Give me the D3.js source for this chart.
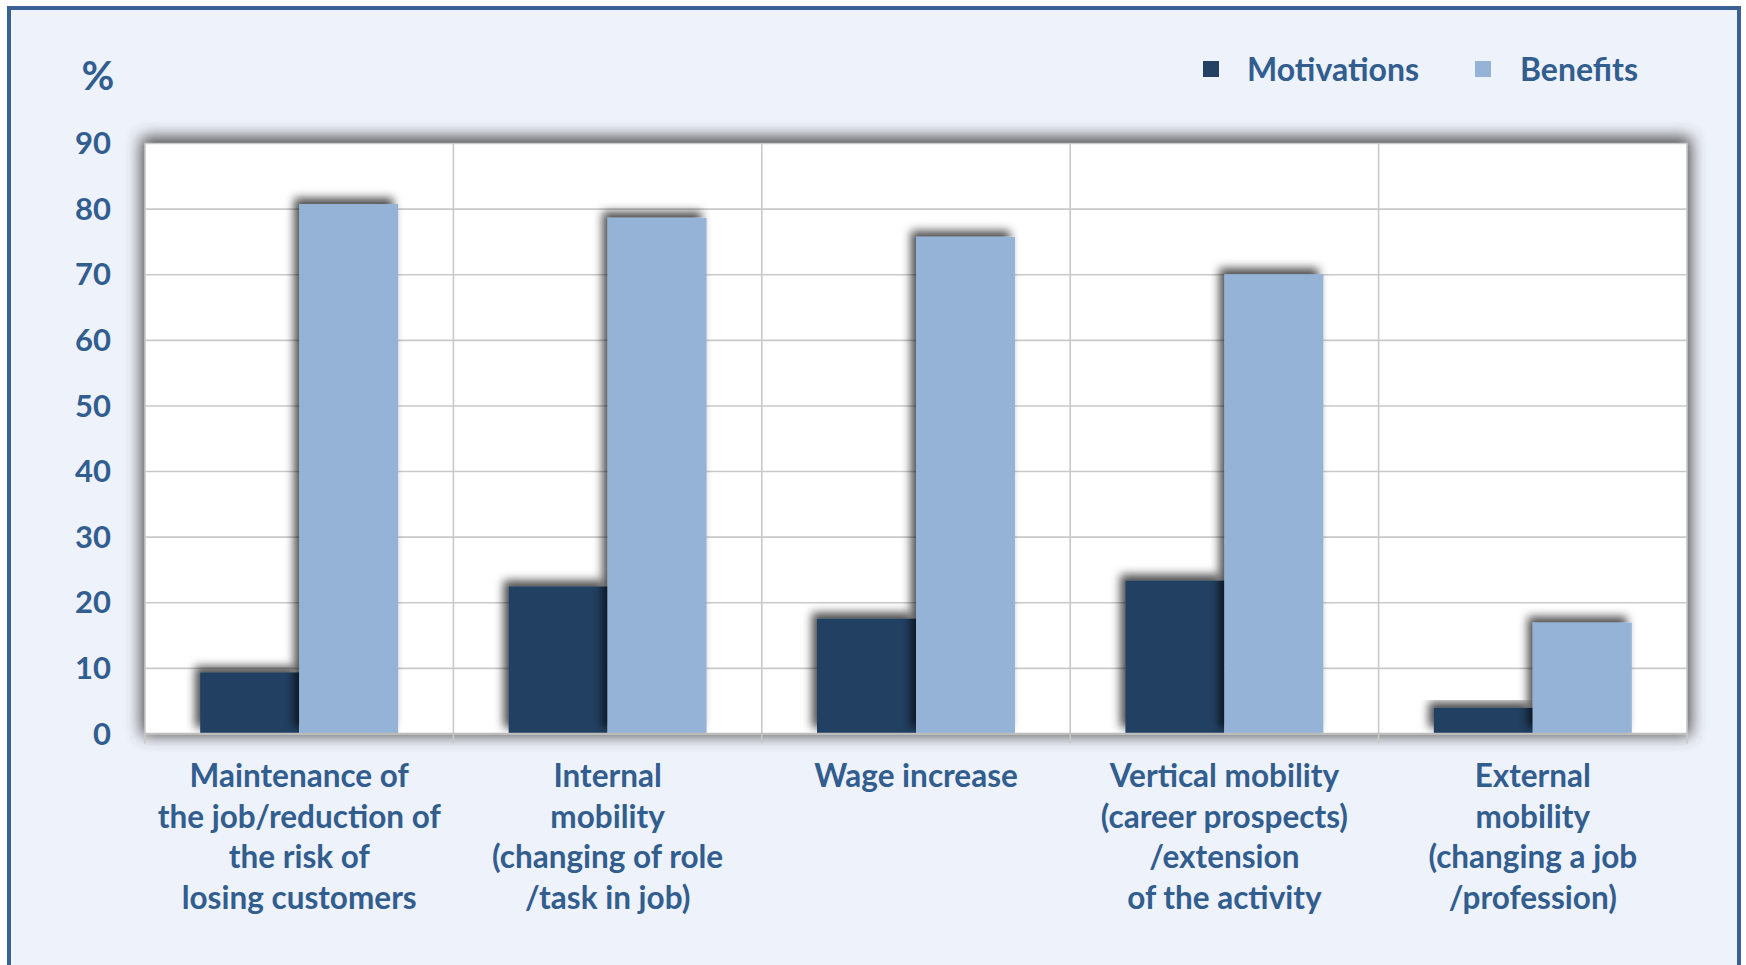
<!DOCTYPE html>
<html>
<head>
<meta charset="utf-8">
<script src="https://cdn.jsdelivr.net/npm/d3@7"></script>
<style>
  html, body { margin: 0; padding: 0; background: #ffffff; }
  svg { display: block; }
  text { font-family: Lato, "Open Sans", sans-serif; font-weight: 700; }
</style>
</head>
<body>
<svg id="chart" width="1746" height="965"></svg>
<script>
// Categories (multi-line axis labels)
const categories = [
  ["Maintenance of", "the job/reduction of", "the risk of", "losing customers"],
  ["Internal", "mobility", "(changing of role", "/task in job)"],
  ["Wage increase"],
  ["Vertical mobility", "(career prospects)", "/extension", "of the activity"],
  ["External", "mobility", "(changing a job", "/profession)"]
];
const seriesNames = ["Motivations", "Benefits"];
const motivations = [9.3, 22.4, 17.5, 23.3, 3.9];
const benefits = [80.7, 78.6, 75.7, 70.0, 16.9];
const yTicks = [0, 10, 20, 30, 40, 50, 60, 70, 80, 90];

const colors = { Motivations: "#244062", Benefits: "#95B3D7" };
const textColor = "#325D8F";

const plot = { left: 145, right: 1687, top: 143, bottom: 733.5 };

const svg = d3.select("#chart");
const defs = svg.append("defs");

// Soft glow around the plot area
const glow = defs.append("filter").attr("id", "plotGlow")
  .attr("x", "-10%").attr("y", "-10%").attr("width", "120%").attr("height", "120%");
glow.append("feGaussianBlur").attr("stdDeviation", 8);

// Shadow cast up and to the left by each bar
const barShadow = defs.append("filter").attr("id", "barShadow")
  .attr("x", "-50%").attr("y", "-30%").attr("width", "200%").attr("height", "160%");
barShadow.append("feDropShadow")
  .attr("dx", -5).attr("dy", -6).attr("stdDeviation", 5)
  .attr("flood-color", "#000").attr("flood-opacity", 0.7);

defs.append("clipPath").attr("id", "plotClip")
  .append("rect")
  .attr("x", plot.left).attr("y", plot.top - 2)
  .attr("width", plot.right - plot.left).attr("height", plot.bottom - plot.top + 2);

// Background panel with frame
svg.append("rect")
  .attr("x", 9).attr("y", 8).attr("width", 1730).attr("height", 962)
  .attr("fill", "#EEF2FA").attr("stroke", "#3A6194").attr("stroke-width", 4);

// Scales
const x = d3.scaleBand()
  .domain(d3.range(categories.length))
  .range([plot.left, plot.right])
  .paddingInner(0).paddingOuter(0);
const bw = x.bandwidth();
const xs = d3.scaleBand()
  .domain(seriesNames)
  .range([bw * 0.179, bw * 0.821])
  .padding(0);
const y = d3.scaleLinear().domain([0, 90]).range([plot.bottom, plot.top]);

// Plot area: glow then white fill
svg.append("rect")
  .attr("x", plot.left - 4).attr("y", plot.top - 6)
  .attr("width", plot.right - plot.left + 8).attr("height", plot.bottom - plot.top + 8)
  .attr("fill", "#3a3a3a").attr("opacity", 0.9)
  .attr("filter", "url(#plotGlow)");
svg.append("rect")
  .attr("x", plot.left).attr("y", plot.top)
  .attr("width", plot.right - plot.left).attr("height", plot.bottom - plot.top)
  .attr("fill", "#ffffff");

// Horizontal gridlines
const gridColor = "#c9c9c9";
svg.append("g")
  .attr("transform", `translate(${plot.left},0)`)
  .call(d3.axisLeft(y).tickValues(yTicks).tickSize(-(plot.right - plot.left)).tickFormat(""))
  .call(g => g.select(".domain").remove())
  .call(g => g.selectAll("line").attr("stroke", gridColor).attr("stroke-width", 1.6));

// Vertical gridlines at category boundaries
const bounds = d3.range(categories.length + 1).map(i => plot.left + i * bw);
svg.append("g").selectAll("line")
  .data(bounds).join("line")
  .attr("x1", d => d).attr("x2", d => d)
  .attr("y1", plot.top).attr("y2", plot.bottom + 10)
  .attr("stroke", gridColor).attr("stroke-width", 1.6);

// Bars
const barLayer = svg.append("g").attr("clip-path", "url(#plotClip)");
const seriesData = [
  { name: "Motivations", values: motivations },
  { name: "Benefits", values: benefits }
];
seriesData.forEach(s => {
  barLayer.append("g").selectAll("rect")
    .data(s.values).join("rect")
    .attr("x", (d, i) => x(i) + xs(s.name))
    .attr("y", d => y(d))
    .attr("width", xs.bandwidth())
    .attr("height", d => y(0) - y(d))
    .attr("fill", colors[s.name])
    .attr("filter", "url(#barShadow)");
});

// Bottom axis line
svg.append("line")
  .attr("x1", plot.left).attr("x2", plot.right)
  .attr("y1", plot.bottom).attr("y2", plot.bottom)
  .attr("stroke", "#bdbdbd").attr("stroke-width", 1.6);

// Y-axis labels
svg.append("g").selectAll("text")
  .data(yTicks).join("text")
  .attr("x", 111).attr("y", d => y(d))
  .attr("dy", "0.36em")
  .attr("text-anchor", "end")
  .attr("font-size", 31)
  .attr("fill", textColor)
  .text(d => d);

svg.append("text")
  .attr("x", 98).attr("y", 76).attr("dy", "0.36em")
  .attr("text-anchor", "middle")
  .attr("font-size", 40)
  .attr("fill", textColor)
  .text("%");

// Category labels
const lineGap = 40.5;
svg.append("g").selectAll("text")
  .data(categories).join("text")
  .attr("text-anchor", "middle")
  .attr("font-size", 31.5)
  .attr("fill", textColor)
  .each(function(lines, i) {
    const t = d3.select(this);
    lines.forEach((ln, j) => {
      t.append("tspan")
        .attr("x", x(i) + bw / 2)
        .attr("y", 776 + j * lineGap)
        .attr("dy", "0.36em")
        .text(ln);
    });
  });

// Legend
const legend = svg.append("g");
const legendItems = [
  { name: "Motivations", sx: 1203, tx: 1247 },
  { name: "Benefits", sx: 1475, tx: 1520 }
];
legend.selectAll("rect")
  .data(legendItems).join("rect")
  .attr("x", d => d.sx).attr("y", 61)
  .attr("width", 16).attr("height", 16)
  .attr("fill", d => colors[d.name]);
legend.selectAll("text")
  .data(legendItems).join("text")
  .attr("x", d => d.tx).attr("y", 69).attr("dy", "0.36em")
  .attr("font-size", 32)
  .attr("fill", textColor)
  .text(d => d.name);
</script>
</body>
</html>
